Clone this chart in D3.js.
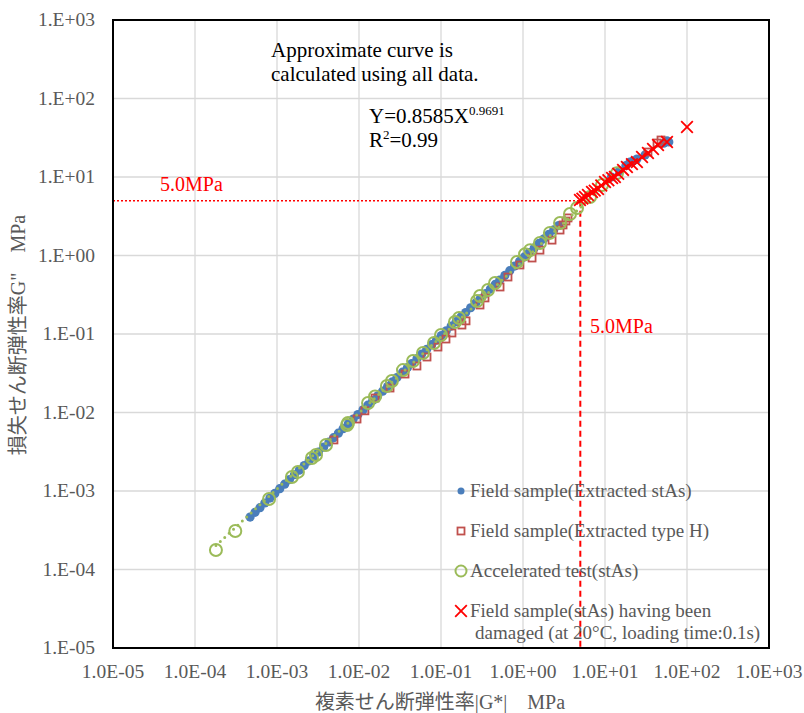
<!DOCTYPE html>
<html>
<head>
<meta charset="utf-8">
<script src="https://cdn.jsdelivr.net/npm/d3@7"></script>
<style>
  body { margin: 0; background: #fff; }
  text { font-family: "Liberation Serif", "Times New Roman", "Noto Sans CJK JP", serif; }
</style>
</head>
<body>
<div id="graph"></div>
<script>
// decade ticks
var tickValues = [1e-5, 1e-4, 1e-3, 1e-2, 1e-1, 1e0, 1e1, 1e2, 1e3];
var xTickLabels = ["1.0E-05", "1.0E-04", "1.0E-03", "1.0E-02", "1.0E-01", "1.0E+00", "1.0E+01", "1.0E+02", "1.0E+03"];
var yTickLabels = ["1.E-05", "1.E-04", "1.E-03", "1.E-02", "1.E-01", "1.E+00", "1.E+01", "1.E+02", "1.E+03"];

// Field sample (Extracted stAs)  [|G*|, G"]
var fieldStAs = [
  [4.7e-4, 4.65e-4], [5.4e-4, 5.35e-4], [6.2e-4, 6.14e-4], [7.1e-4, 7.03e-4], [8.2e-4, 8.12e-4],
  [9.4e-4, 9.3e-4], [1.08e-3, 1.07e-3], [1.24e-3, 1.22e-3], [1.42e-3, 1.40e-3], [1.63e-3, 1.61e-3],
  [1.87e-3, 1.84e-3], [2.15e-3, 2.11e-3], [2.47e-3, 2.42e-3], [2.8e-3, 2.74e-3], [3.2e-3, 3.13e-3],
  [3.7e-3, 3.62e-3], [4.3e-3, 4.2e-3], [4.9e-3, 4.78e-3], [5.6e-3, 5.45e-3], [6.4e-3, 6.23e-3],
  [7.4e-3, 7.2e-3], [8.5e-3, 8.26e-3], [9.7e-3, 9.41e-3], [0.0112, 0.0108], [0.0128, 0.0124],
  [0.0147, 0.0142], [0.0169, 0.0163], [0.0194, 0.0187], [0.0223, 0.0215], [0.0256, 0.0246],
  [0.029, 0.0279], [0.034, 0.0326], [0.039, 0.0373], [0.044, 0.0421], [0.051, 0.0487],
  [0.058, 0.0553], [0.067, 0.0638], [0.077, 0.0732], [0.088, 0.0835], [0.101, 0.0957],
  [0.116, 0.110], [0.133, 0.126], [0.153, 0.144], [0.175, 0.165], [0.20, 0.188],
  [0.23, 0.216], [0.265, 0.249], [0.30, 0.281], [0.35, 0.328], [0.40, 0.374],
  [0.46, 0.430], [0.52, 0.486], [0.60, 0.558], [0.69, 0.641], [0.79, 0.733],
  [0.91, 0.843], [1.04, 0.96], [1.19, 1.09], [1.37, 1.25], [1.57, 1.43],
  [1.80, 1.63], [2.07, 1.86], [2.37, 2.12], [2.72, 2.41],
  [12, 10], [15, 12], [18, 14], [20.2, 15.5], [22, 16], [24.5, 16.9], [30.8, 19.1],
  [52, 27], [57, 28.8], [60, 28]
];

// Field sample (Extracted type H)
var fieldTypeH = [
  [4.95e-3, 4.47e-3], [9.46e-3, 8.26e-3], [1.18e-2, 1.05e-2], [1.57e-2, 1.53e-2], [2.39e-2, 2.05e-2],
  [3.64e-2, 3.09e-2], [5.09e-2, 3.91e-2], [6.75e-2, 5.09e-2], [9.18e-2, 6.82e-2], [0.115, 0.0863],
  [0.136, 0.103], [0.180, 0.130], [0.202, 0.147], [0.299, 0.234], [0.344, 0.288],
  [0.525, 0.397], [0.656, 0.532], [0.918, 0.757], [1.29, 0.929], [1.61, 1.17],
  [2.26, 1.57], [2.83, 2.11], [3.08, 2.45], [3.34, 2.75], [3.54, 3.01],
  [33.4, 20.8], [43.1, 27.1], [48.2, 29.6]
];

// Accelerated test (stAs)
var accelerated = [
  [1.8e-4, 1.77e-4], [3.1e-4, 3.1e-4], [8.0e-4, 7.9e-4], [1.52e-3, 1.51e-3], [1.80e-3, 1.75e-3],
  [2.67e-3, 2.63e-3], [2.99e-3, 2.88e-3], [3.96e-3, 3.85e-3], [7.15e-3, 6.94e-3], [7.35e-3, 7.34e-3],
  [1.29e-2, 1.32e-2], [1.57e-2, 1.6e-2], [2.19e-2, 2.18e-2], [2.52e-2, 2.52e-2], [3.44e-2, 3.47e-2],
  [4.56e-2, 4.53e-2], [6.03e-2, 5.73e-2], [8.22e-2, 7.67e-2], [0.100, 0.097], [0.148, 0.142],
  [0.166, 0.160], [0.275, 0.263], [0.299, 0.305], [0.374, 0.364], [0.456, 0.447],
  [0.845, 0.826], [1.06, 1.04], [1.22, 1.17], [1.61, 1.44], [2.13, 1.94],
  [2.83, 2.59], [3.74, 3.38], [4.56, 4.03], [6.56, 5.56], [9.19, 7.91], [14.0, 11.2]
];

// Field sample (stAs) having been damaged
var damaged = [
  [4.95, 5.09], [5.3, 5.3], [5.7, 5.56], [6.2, 5.9], [6.94, 6.44], [7.5, 6.7], [8.22, 7.03],
  [9.0, 7.8], [10.0, 8.63], [11, 9.1], [12.2, 9.71], [13.2, 10.0], [14.5, 11], [16.6, 12.3],
  [18.5, 13.4], [21.3, 14.6], [24.5, 15.5], [28.3, 18.0], [33.4, 20.2], [38.5, 22.7],
  [44.3, 25.6], [57.0, 27.9], [100, 43.3]
];

// power approximation Y = 0.8585 X^0.9691
var fitA = 0.8585, fitB = 0.9691;
var fitRange = [1.8e-4, 14.0];
var limit = 5.0;

var w = 804, h = 713;
var padL = 113, padR = 769, padT = 20, padB = 648;

var xScale = d3.scaleLog().domain([1e-5, 1e3]).range([padL, padR]);
var yScale = d3.scaleLog().domain([1e-5, 1e3]).range([padB, padT]);

var svg = d3.select("#graph").append("svg")
  .attr("width", w)
  .attr("height", h);

// grid
svg.append("g").selectAll("line")
  .data(tickValues).enter().append("line")
  .attr("x1", function (d) { return xScale(d); })
  .attr("x2", function (d) { return xScale(d); })
  .attr("y1", padT).attr("y2", padB)
  .attr("stroke", "#d9d9d9").attr("stroke-width", 1.3);
svg.append("g").selectAll("line")
  .data(tickValues).enter().append("line")
  .attr("y1", function (d) { return yScale(d); })
  .attr("y2", function (d) { return yScale(d); })
  .attr("x1", padL).attr("x2", padR)
  .attr("stroke", "#d9d9d9").attr("stroke-width", 1.3);

// tick labels
svg.append("g").selectAll("text")
  .data(tickValues).enter().append("text")
  .attr("x", function (d) { return xScale(d); })
  .attr("y", 678)
  .attr("text-anchor", "middle")
  .attr("font-size", 19.5)
  .attr("fill", "#595959")
  .text(function (d, i) { return xTickLabels[i]; });
svg.append("g").selectAll("text")
  .data(tickValues).enter().append("text")
  .attr("x", 95)
  .attr("y", function (d) { return yScale(d) + 6; })
  .attr("text-anchor", "end")
  .attr("font-size", 19.5)
  .attr("fill", "#595959")
  .text(function (d, i) { return yTickLabels[i]; });

// axis titles
svg.append("text")
  .attr("x", 440).attr("y", 709)
  .attr("text-anchor", "middle")
  .attr("font-size", 20)
  .attr("fill", "#595959")
  .text("複素せん断弾性率|G*|　MPa");
svg.append("text")
  .attr("transform", "translate(25,335) rotate(-90)")
  .attr("text-anchor", "middle")
  .attr("font-size", 20)
  .attr("fill", "#595959")
  .text("損失せん断弾性率G\"　MPa");

// 5.0 MPa guide lines
svg.append("line")
  .attr("x1", padL).attr("x2", xScale(limit))
  .attr("y1", yScale(limit)).attr("y2", yScale(limit))
  .attr("stroke", "#ff0000").attr("stroke-width", 1.5)
  .attr("stroke-dasharray", "2,2");
svg.append("line")
  .attr("x1", xScale(limit)).attr("x2", xScale(limit))
  .attr("y1", yScale(limit)).attr("y2", padB)
  .attr("stroke", "#ff0000").attr("stroke-width", 2)
  .attr("stroke-dasharray", "6,4");
svg.append("text")
  .attr("x", 160).attr("y", 191)
  .attr("font-size", 20).attr("fill", "#ff0000")
  .text("5.0MPa");
svg.append("text")
  .attr("x", 590).attr("y", 333)
  .attr("font-size", 20).attr("fill", "#ff0000")
  .text("5.0MPa");

// series
svg.append("g").selectAll("circle")
  .data(fieldStAs).enter().append("circle")
  .attr("cx", function (d) { return xScale(d[0]); })
  .attr("cy", function (d) { return yScale(d[1]); })
  .attr("r", 4.6)
  .attr("fill", "#4a7ebb");

svg.append("g").selectAll("rect")
  .data(fieldTypeH).enter().append("rect")
  .attr("x", function (d) { return xScale(d[0]) - 3.5; })
  .attr("y", function (d) { return yScale(d[1]) - 3.5; })
  .attr("width", 7).attr("height", 7)
  .attr("fill", "none")
  .attr("stroke", "#c0504d").attr("stroke-width", 1.8);

svg.append("g").selectAll("circle")
  .data(accelerated).enter().append("circle")
  .attr("cx", function (d) { return xScale(d[0]); })
  .attr("cy", function (d) { return yScale(d[1]); })
  .attr("r", 6)
  .attr("fill", "none")
  .attr("stroke", "#9bbb59").attr("stroke-width", 2);

// trend line
svg.append("line")
  .attr("x1", xScale(fitRange[0]))
  .attr("y1", yScale(fitA * Math.pow(fitRange[0], fitB)))
  .attr("x2", xScale(fitRange[1]))
  .attr("y2", yScale(fitA * Math.pow(fitRange[1], fitB)))
  .attr("stroke", "#9bbb59").attr("stroke-width", 3)
  .attr("stroke-linecap", "round")
  .attr("stroke-dasharray", "0,6");

var cross = d3.symbol().type(d3.symbolX).size(90);
svg.append("g").selectAll("path")
  .data(damaged).enter().append("path")
  .attr("d", cross)
  .attr("transform", function (d) { return "translate(" + xScale(d[0]) + "," + yScale(d[1]) + ")"; })
  .attr("fill", "none")
  .attr("stroke", "#ff0000").attr("stroke-width", 1.8);

// plot border
svg.append("rect")
  .attr("x", padL).attr("y", padT)
  .attr("width", padR - padL).attr("height", padB - padT)
  .attr("fill", "none")
  .attr("stroke", "#000").attr("stroke-width", 2);

// annotation
var note = svg.append("g").attr("font-size", 21).attr("fill", "#000");
note.append("text").attr("x", 271).attr("y", 57).text("Approximate curve is");
note.append("text").attr("x", 271).attr("y", 81).text("calculated using all data.");
var eq = note.append("text").attr("x", 369).attr("y", 123);
eq.append("tspan").text("Y=0.8585X");
eq.append("tspan").attr("font-size", 13).attr("dy", -8).text("0.9691");
var r2 = note.append("text").attr("x", 369).attr("y", 147);
r2.append("tspan").text("R");
r2.append("tspan").attr("font-size", 13).attr("dy", -8).text("2");
r2.append("tspan").attr("dy", 8).text("=0.99");

// legend
var legendNames = ["Field sample(Extracted stAs)", "Field sample(Extracted type H)", "Accelerated test(stAs)", "Field sample(stAs) having been"];
var legendY = [491, 531, 571, 611];
var lg = svg.append("g");
lg.selectAll("text")
  .data(legendNames).enter().append("text")
  .attr("x", 470)
  .attr("y", function (d, i) { return legendY[i] + 6; })
  .attr("font-size", 19)
  .attr("fill", "#595959")
  .text(function (d) { return d; });
lg.append("text")
  .attr("x", 475).attr("y", 639)
  .attr("font-size", 19).attr("fill", "#595959")
  .text("damaged (at 20°C, loading time:0.1s)");
lg.append("circle").attr("cx", 461).attr("cy", legendY[0]).attr("r", 3.5).attr("fill", "#4a7ebb");
lg.append("rect").attr("x", 457.5).attr("y", legendY[1] - 3.5).attr("width", 7).attr("height", 7)
  .attr("fill", "none").attr("stroke", "#c0504d").attr("stroke-width", 1.8);
lg.append("circle").attr("cx", 461).attr("cy", legendY[2]).attr("r", 5.5)
  .attr("fill", "none").attr("stroke", "#9bbb59").attr("stroke-width", 2);
lg.append("path").attr("d", cross)
  .attr("transform", "translate(461," + legendY[3] + ")")
  .attr("fill", "none").attr("stroke", "#ff0000").attr("stroke-width", 1.8);
</script>
</body>
</html>
